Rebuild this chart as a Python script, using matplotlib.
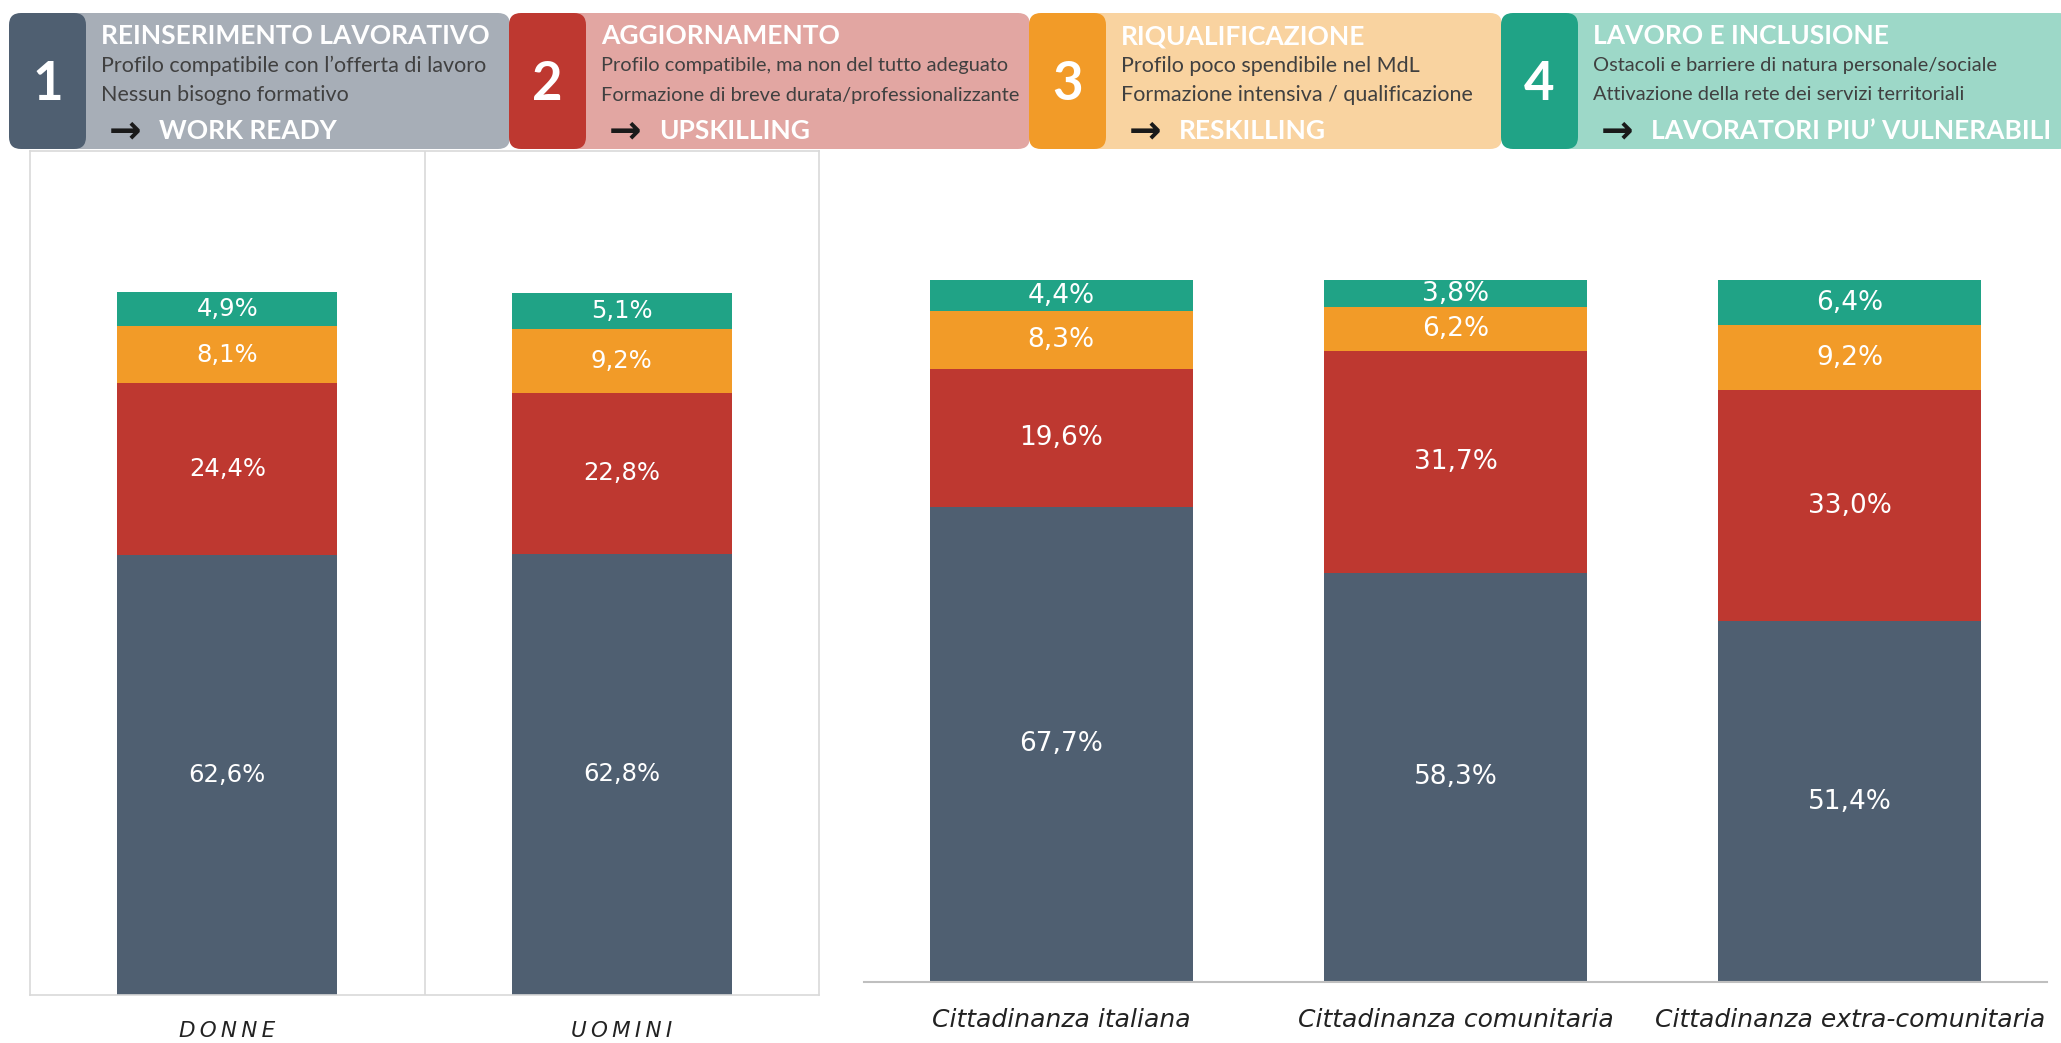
import matplotlib
matplotlib.use("Agg")
import matplotlib.pyplot as plt
from matplotlib.patches import FancyBboxPatch
from matplotlib import font_manager
import numpy as np

# --- data ---
gender_groups = ["DONNE", "UOMINI"]
gender_work_ready = [62.6, 62.8]
gender_upskilling = [24.4, 22.8]
gender_reskilling = [8.1, 9.2]
gender_vulnerabili = [4.9, 5.1]

citizen_groups = ["Cittadinanza italiana", "Cittadinanza comunitaria",
                  "Cittadinanza extra-comunitaria"]
citizen_work_ready = [67.7, 58.3, 51.4]
citizen_upskilling = [19.6, 31.7, 33.0]
citizen_reskilling = [8.3, 6.2, 9.2]
citizen_vulnerabili = [4.4, 3.8, 6.4]

header_numbers = ["1", "2", "3", "4"]
header_titles = ["REINSERIMENTO LAVORATIVO", "AGGIORNAMENTO",
                 "RIQUALIFICAZIONE", "LAVORO E INCLUSIONE"]
header_lines = [
    ["Profilo compatibile con l\u2019offerta di lavoro", "Nessun bisogno formativo"],
    ["Profilo compatibile, ma non del tutto adeguato",
     "Formazione di breve durata/professionalizzante"],
    ["Profilo poco spendibile nel MdL", "Formazione intensiva / qualificazione"],
    ["Ostacoli e barriere di natura personale/sociale",
     "Attivazione della rete dei servizi territoriali"],
]
header_targets = ["WORK READY", "UPSKILLING", "RESKILLING", "LAVORATORI PIU\u2019 VULNERABILI"]

DARK = ["#4F5F71", "#BE3830", "#F29B28", "#20A386"]
LIGHT = ["#A7AEB7", "#E2A6A2", "#F9D3A0", "#9DD8C8"]
SUB_SIZES = [15.5, 14.4, 15.5, 14.4]

names = {f.name for f in font_manager.fontManager.ttflist}
MAIN = "Lato" if "Lato" in names else "DejaVu Sans"

W, H = 2061, 1043
fig = plt.figure(figsize=(W / 100, H / 100), dpi=100)


def stacked(ax, groups, series, width, fontsize):
    x = np.arange(len(groups))
    bottom = np.zeros(len(groups))
    for vals, col in zip(series, DARK):
        vals = np.array(vals) / 100.0
        ax.bar(x, vals, width, bottom=bottom, color=col, edgecolor="none", zorder=2)
        for xi, b, v in zip(x, bottom, vals):
            ax.text(xi, b + v / 2, f"{v * 100:.1f}%".replace(".", ","),
                    ha="center", va="center", color="white",
                    fontsize=fontsize, zorder=3)
        bottom += vals
    ax.set_ylim(0, 1.2)
    ax.set_yticks([])
    ax.set_xticks([])


# --- left panel (gender) ---
axl = fig.add_axes([30 / W, 1 - 995 / H, 789 / W, 843.6 / H])
stacked(axl, gender_groups,
        [gender_work_ready, gender_upskilling, gender_reskilling, gender_vulnerabili],
        0.557, 17.5)
axl.set_xlim(-0.5, 1.5)
for s in axl.spines.values():
    s.set_color("#D9D9D9")
    s.set_linewidth(1.2)
axl.axvline(0.5, color="#D9D9D9", lw=1.2, zorder=1)
for i, g in enumerate(gender_groups):
    axl.annotate("\u2009".join(g), (i, 0), xytext=(0, -36), textcoords="offset pixels",
                 ha="center", va="center", fontsize=15.5, style="italic",
                 color="#222222", annotation_clip=False)

# --- right panel (citizenship) ---
axr = fig.add_axes([864 / W, 1 - 982 / H, 1183 / W, 842 / H])
stacked(axr, citizen_groups,
        [citizen_work_ready, citizen_upskilling, citizen_reskilling, citizen_vulnerabili],
        0.667, 19)
axr.set_xlim(-0.5, 2.5)
for k in ["top", "left", "right"]:
    axr.spines[k].set_visible(False)
axr.spines["bottom"].set_color("#BFBFBF")
axr.spines["bottom"].set_linewidth(1.5)
for i, g in enumerate(citizen_groups):
    axr.annotate(g, (i, 0), xytext=(0, -38), textcoords="offset pixels",
                 ha="center", va="center", fontsize=18, style="italic",
                 color="#222222", annotation_clip=False)

# --- header band ---
hd = fig.add_axes([0, 0, 1, 1], zorder=5)
hd.set_xlim(0, W)
hd.set_ylim(H, 0)
hd.axis("off")
dark_x = [9, 509, 1029, 1501]
light_end = [520, 1040, 1512, W + 20]
top, bot = 13, 149
for i in range(4):
    hd.add_patch(FancyBboxPatch((dark_x[i] + 10, top), light_end[i] - dark_x[i] - 20,
                                bot - top, boxstyle="round,pad=0,rounding_size=12",
                                fc=LIGHT[i], ec="none", zorder=i * 2))
for i in range(4):
    hd.add_patch(FancyBboxPatch((dark_x[i], top), 77, bot - top,
                                boxstyle="round,pad=0,rounding_size=12",
                                fc=DARK[i], ec="none", zorder=i * 2 + 1))
    hd.text(dark_x[i] + 38.5, 84, header_numbers[i], ha="center", va="center",
            color="white", fontsize=38, weight="bold", family=MAIN, zorder=10)
    tx = dark_x[i] + 92
    hd.text(tx, 36, header_titles[i], ha="left", va="center", color="white",
            fontsize=19, weight="bold", family=MAIN, zorder=10)
    hd.text(tx, 66, header_lines[i][0], ha="left", va="center", color="#404040",
            fontsize=SUB_SIZES[i], family=MAIN, zorder=10)
    hd.text(tx, 95, header_lines[i][1], ha="left", va="center", color="#404040",
            fontsize=SUB_SIZES[i], family=MAIN, zorder=10)
    hd.text(tx + 8, 131, "\u2192", ha="left", va="center", color="#1a1a1a",
            fontsize=28, weight="bold", family="DejaVu Sans", zorder=10)
    hd.text(tx + 58, 131, header_targets[i], ha="left", va="center", color="white",
            fontsize=19, weight="bold", family=MAIN, zorder=10)

fig.savefig("out.png", dpi=100, facecolor="white")
